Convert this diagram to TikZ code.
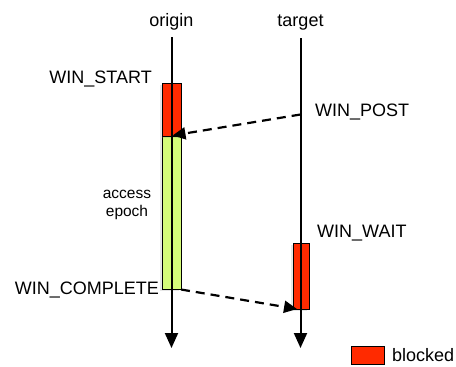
\documentclass[tikz,border=0pt]{standalone}
\usepackage{fontspec}
\setmainfont{Liberation Sans}
\usetikzlibrary{arrows.meta,shadows}
\definecolor{blockred}{HTML}{FF2A00}
\definecolor{epochgreen}{HTML}{D4FB79}
\tikzset{
  lbl/.style={inner sep=0pt, font=\fontsize{18}{21}\selectfont},
  small/.style={inner sep=0pt, align=center, font=\fontsize{15.5}{18.5}\selectfont},
  bar/.style={draw=black, line width=1pt, drop shadow={shadow xshift=-2pt, shadow yshift=-2pt, opacity=0.2}},
  lifeline/.style={line width=2pt, -{Triangle[length=15pt,width=13pt]}},
  msg/.style={line width=2.2pt, dash pattern=on 9pt off 6pt, -{Triangle[length=13pt,width=12pt]}}
}
\begin{document}
\begin{tikzpicture}[x=1pt,y=-1pt]
\useasboundingbox (0,0) rectangle (456,367);
% labels
\node[lbl, anchor=base] (origin) at (171.5,26) {origin};
\node[lbl, anchor=base] (target) at (300.5,26) {target};
\node[lbl, anchor=east] (wstart) at (152,79) {WIN\_START};
\node[lbl, anchor=west] (wpost) at (315,112) {WIN\_POST};
\node[lbl, anchor=west] (wwait) at (317,233) {WIN\_WAIT};
\node[lbl, anchor=east] (wcomplete) at (159,290) {WIN\_COMPLETE};
\node[small] (epoch) at (127,205) {access\\epoch};
% bars
\path[bar, fill=epochgreen] (162,136) rectangle (181,289);
\path[bar, fill=blockred] (162,83) rectangle (181,136);
\path[bar, fill=blockred] (293,243) rectangle (309,309);
% lifelines
\coordinate (otop) at (171.5,37);
\coordinate (obot) at (171.5,348);
\coordinate (ttop) at (300.5,38);
\coordinate (tbot) at (300.5,348);
\draw[lifeline] (otop) -- (obot);
\draw[lifeline] (ttop) -- (tbot);
% messages
\coordinate (postfrom) at (300.5,114.5);
\coordinate (postto) at (172.5,135.5);
\coordinate (compfrom) at (181,289.5);
\coordinate (compto) at (297,309);
\draw[msg] (postfrom) -- (postto);
\draw[msg] (compfrom) -- (compto);
% legend
\node[draw=black, line width=1pt, fill=blockred, minimum width=33pt, minimum height=18pt, inner sep=0pt, anchor=north west] (legbox) at (351,346) {};
\node[lbl, anchor=west] (blocked) at (392,355) {blocked};
\end{tikzpicture}
\end{document}
